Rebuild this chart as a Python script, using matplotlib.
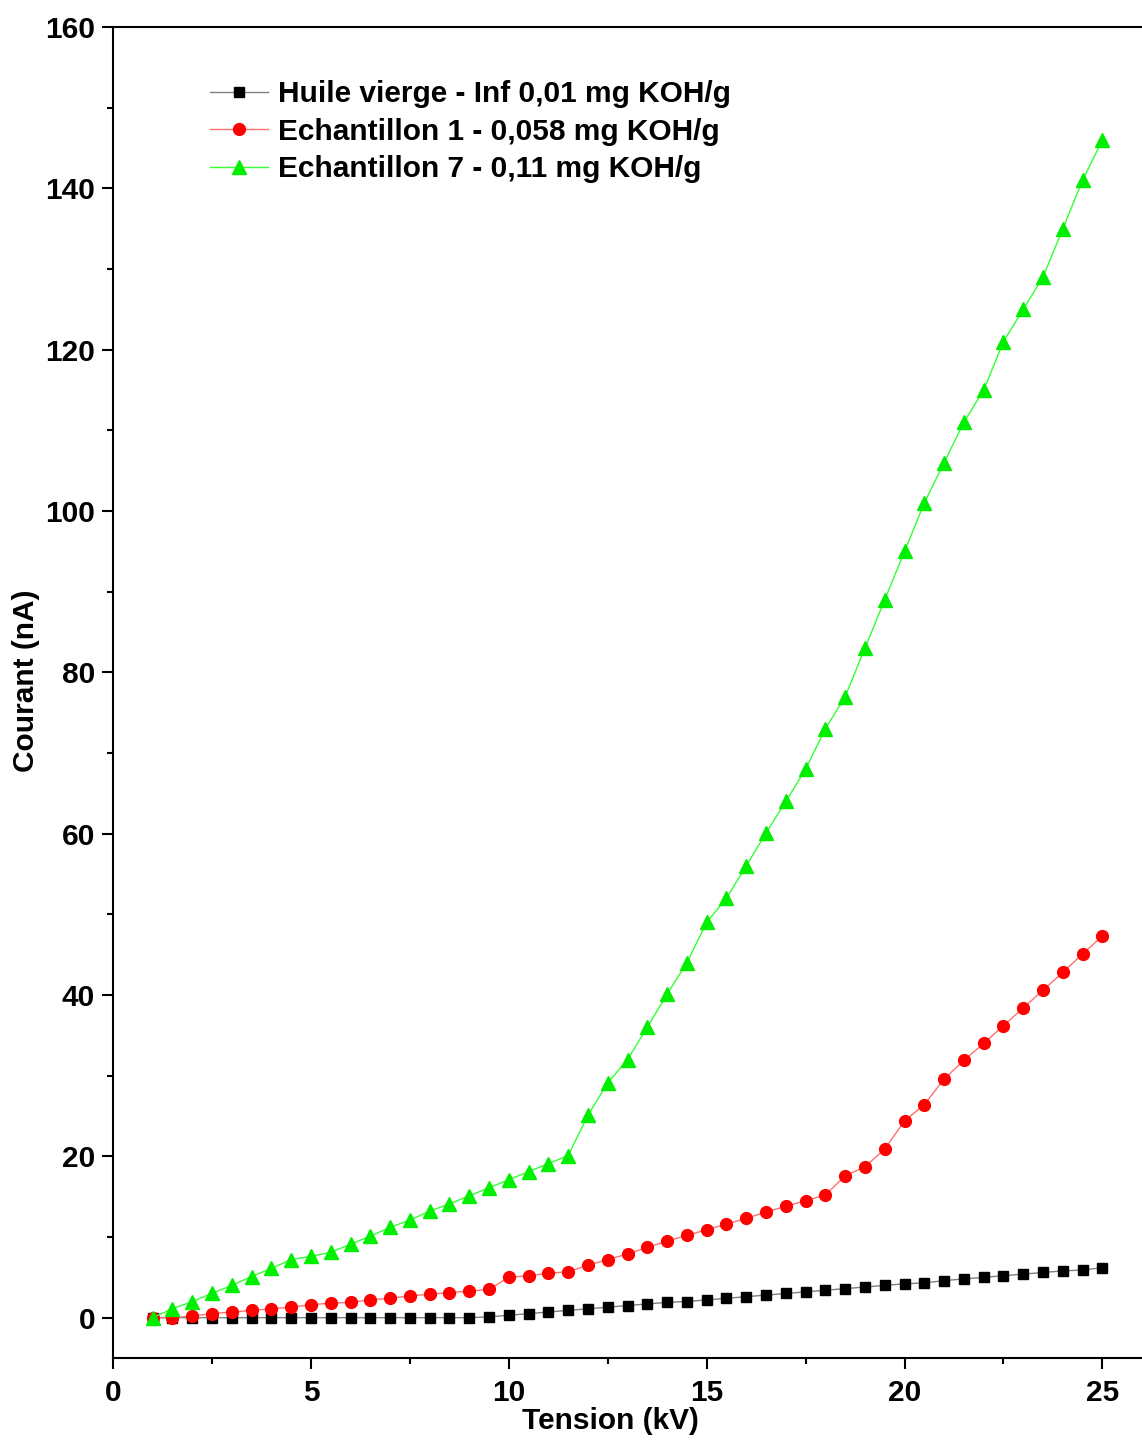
import numpy as np
from matplotlib import pyplot as plt
from matplotlib.ticker import MultipleLocator

# Tension values (kV)
tension = np.arange(1.0, 25.01, 0.5)

# Courant (nA) for each oil sample
huile_vierge = [0, 0, 0, 0, 0, 0, 0, 0, 0, 0, 0, 0, 0, 0, 0, 0, 0, 0.1,
                0.3, 0.5, 0.7, 0.9, 1.1, 1.3, 1.5, 1.7, 1.9, 2.0, 2.2, 2.4,
                2.6, 2.8, 3.0, 3.2, 3.4, 3.6, 3.8, 4.0, 4.2, 4.3, 4.6, 4.8,
                5.0, 5.2, 5.4, 5.6, 5.8, 5.9, 6.2]
echantillon_1 = [0, 0, 0.2, 0.5, 0.7, 0.9, 1.1, 1.3, 1.6, 1.8, 1.9, 2.2,
                 2.4, 2.7, 2.9, 3.1, 3.3, 3.5, 5.0, 5.2, 5.5, 5.7, 6.5, 7.2,
                 7.9, 8.7, 9.5, 10.2, 10.9, 11.6, 12.3, 13.1, 13.8, 14.5,
                 15.2, 17.6, 18.7, 20.9, 24.4, 26.4, 29.6, 31.9, 34.0, 36.2,
                 38.4, 40.6, 42.8, 45.1, 47.3]
echantillon_7 = [0, 1.1, 2.0, 3.0, 4.0, 5.1, 6.1, 7.2, 7.6, 8.1, 9.1, 10.1,
                 11.2, 12.1, 13.2, 14.1, 15.1, 16.1, 17.1, 18.1, 19.1, 20.1,
                 25.1, 29.1, 32.0, 36.0, 40.1, 44.0, 49.0, 52.0, 56.0, 60.1,
                 64, 68, 73, 77, 83, 89, 95, 101, 106, 111, 115, 121, 125,
                 129, 135, 141, 146]

labels = ['Huile vierge - Inf 0,01 mg KOH/g',
          'Echantillon 1 - 0,058 mg KOH/g',
          'Echantillon 7 - 0,11 mg KOH/g']

plt.rcParams['font.family'] = ['Liberation Sans', 'DejaVu Sans']
plt.rcParams['font.weight'] = 'bold'
font = 21.5

fig = plt.figure(figsize=(11.42, 14.41), dpi=100)
ax = fig.add_axes([0.099, 0.0576, 0.901, 0.9237])

ax.plot(tension, huile_vierge, '-', c='#808080', lw=1,
        marker='s', ms=7, mfc='black', mec='black', label=labels[0])
ax.plot(tension, echantillon_1, '-', c='#ff7070', lw=1,
        marker='o', ms=8.5, mfc='red', mec='red', label=labels[1])
ax.plot(tension, echantillon_7, '-', c='#33ff33', lw=1,
        marker='^', ms=9.5, mfc='#00ee00', mec='#00ee00', label=labels[2])

# Axes settings
ax.set_xlim([0, 26])
ax.set_ylim([-5, 160])
ax.xaxis.set_major_locator(MultipleLocator(5))
ax.xaxis.set_minor_locator(MultipleLocator(2.5))
ax.yaxis.set_major_locator(MultipleLocator(20))
ax.yaxis.set_minor_locator(MultipleLocator(10))
ax.tick_params(which='major', direction='out', length=8, width=1.5,
               labelsize=font, top=False, right=False)
ax.tick_params(axis='x', which='major', pad=7)
ax.tick_params(axis='y', which='major', pad=5)
ax.tick_params(which='minor', direction='out', length=4.5, width=1.5,
               top=False, right=False)
for side in ['left', 'bottom', 'top']:
    ax.spines[side].set_linewidth(1.5)
ax.spines['right'].set_visible(False)
for lbl in ax.get_xticklabels() + ax.get_yticklabels():
    lbl.set_fontweight('bold')

ax.set_xlabel('Tension (kV)', fontsize=font, fontweight='bold')
ax.set_ylabel('Courant (nA)', fontsize=font, fontweight='bold')
ax.xaxis.set_label_coords(0.483, -0.037)
ax.yaxis.set_label_coords(-0.071, 0.509)

leg = ax.legend(loc='upper left', bbox_to_anchor=(0.094, 0.960),
                frameon=False, fontsize=font, handlelength=1.95,
                handletextpad=0.35, labelspacing=0.32, borderaxespad=0,
                borderpad=0)
for t in leg.get_texts():
    t.set_fontweight('bold')

fig.savefig('out.png', dpi=100)
